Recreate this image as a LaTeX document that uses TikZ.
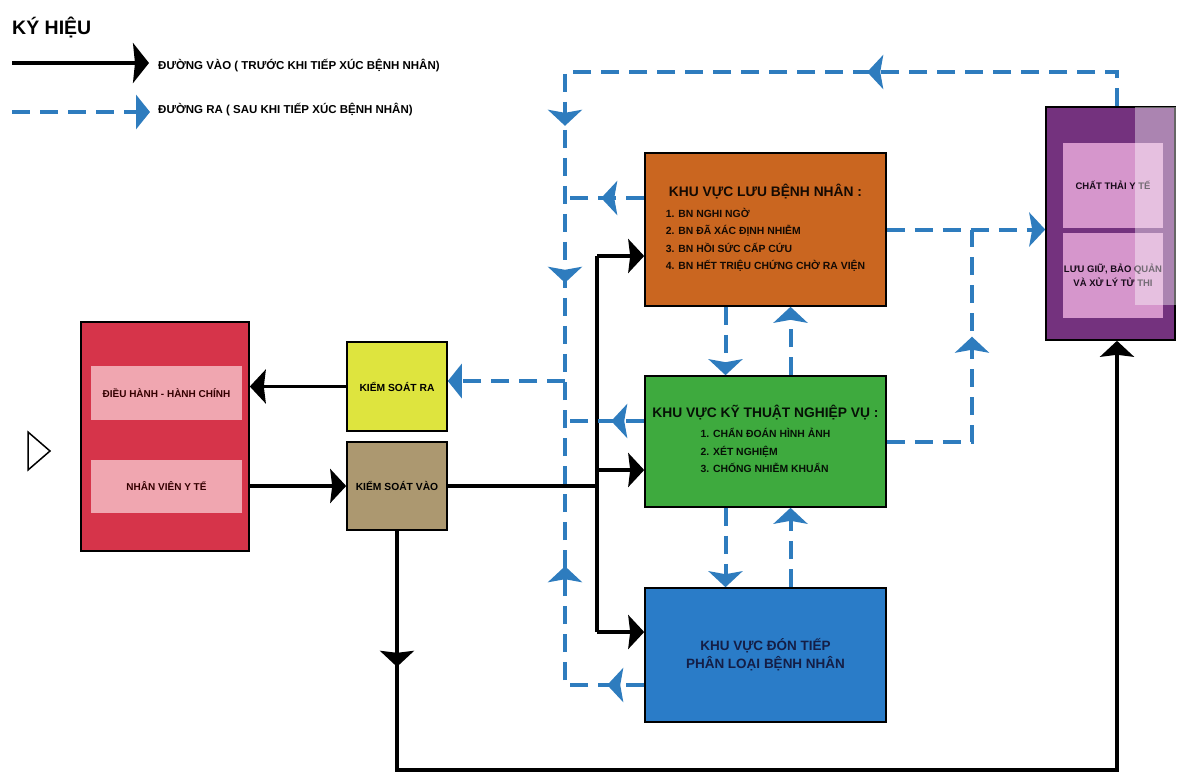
\documentclass[tikz,border=0pt]{standalone}
\usepackage{fontspec}
\setmainfont{Liberation Sans}
\usetikzlibrary{arrows.meta,decorations.markings}
\definecolor{hccol}{RGB}{214,52,74}
\definecolor{bandcol}{RGB}{240,166,176}
\definecolor{racol}{RGB}{222,228,62}
\definecolor{vaocol}{RGB}{172,152,112}
\definecolor{luucol}{RGB}{202,102,32}
\definecolor{ktcol}{RGB}{62,170,62}
\definecolor{doncol}{RGB}{42,124,200}
\definecolor{wastecol}{RGB}{116,50,126}
\definecolor{wbandcol}{RGB}{214,150,204}
\definecolor{flowblue}{RGB}{46,124,190}
\definecolor{navy}{RGB}{20,30,70}
\newcommand{\zonetitle}{\fontsize{13.8}{16}\selectfont}
\newcommand{\zoneitem}{\fontsize{10.4}{17.5}\selectfont}
\tikzset{
  blacktip/.tip={Stealth[length=16pt,width=34pt,inset=2pt]},
  bluetip/.tip={Stealth[length=16pt,width=34pt,inset=3pt]},
  zone/.style={draw=black, line width=1.6pt, inner sep=0pt, align=center, font=\bfseries},
  band/.style={inner sep=0pt, align=center, font=\bfseries\fontsize{10}{12}\selectfont},
  inflow/.style={line width=3.2pt, black},
  outflow/.style={line width=4pt, flowblue, dash pattern=on 18pt off 10pt},
  bluemid/.style={postaction={decorate, decoration={markings, mark=at position #1 with {\arrow{bluetip}}}}},
  blackmid/.style={postaction={decorate, decoration={markings, mark=at position #1 with {\arrow{blacktip}}}}},
}
\begin{document}
\begin{tikzpicture}[x=1pt, y=-1pt]
  \fill[white] (0,0) rectangle (1177,774);
  \useasboundingbox (0,0) rectangle (1177,774);

  % legend
  \node[font=\bfseries\fontsize{19.5}{22}\selectfont, anchor=west, inner sep=0pt] (kyhieu) at (12,28) {KÝ HIỆU};
  \node[font=\bfseries\fontsize{11.5}{13}\selectfont, anchor=west, inner sep=0pt] (lgIn) at (158,66) {ĐƯỜNG VÀO ( TRƯỚC KHI TIẾP XÚC BỆNH NHÂN)};
  \node[font=\bfseries\fontsize{11.5}{13}\selectfont, anchor=west, inner sep=0pt] (lgOut) at (158,110) {ĐƯỜNG RA ( SAU KHI TIẾP XÚC BỆNH NHÂN)};
  \coordinate (lgInA) at (12,63);
  \coordinate (lgInB) at (149,63);
  \coordinate (lgOutA) at (12,112);
  \coordinate (lgOutB) at (150,112);
  \draw[inflow,-{Stealth[length=16pt,width=40pt,inset=2pt]}] (lgInA) -- (lgInB);
  \draw[outflow,-{Triangle[length=14pt,width=34pt]}] (lgOutA) -- (lgOutB);

  % zones
  \node[zone, fill=hccol, minimum width=168pt, minimum height=229pt] (hc) at (165,436.5) {};
  \node[band, fill=bandcol, text=black!80!red, minimum width=151pt, minimum height=54pt] (dieuhanh) at (166.5,393) {ĐIỀU HÀNH - HÀNH CHÍNH};
  \node[band, fill=bandcol, text=black!80!red, minimum width=151pt, minimum height=53pt] (nhanvien) at (166.5,486.5) {NHÂN VIÊN Y TẾ};
  \draw[line width=1.5pt] (28,432) -- (50,451) -- (28,470) -- cycle;

  \node[zone, fill=racol, minimum width=100pt, minimum height=89pt, font=\bfseries\fontsize{10.3}{12}\selectfont] (ksr) at (397,386.5) {KIỂM SOÁT RA};
  \node[zone, fill=vaocol, minimum width=100pt, minimum height=88pt, font=\bfseries\fontsize{10.3}{12}\selectfont] (ksv) at (397,486) {KIỂM SOÁT VÀO};

  \node[zone, fill=luucol, text=black!90!luucol, minimum width=241pt, minimum height=153pt] (luu) at (765.5,229.5)
    {\begin{tabular}{@{}c@{}}{\zonetitle KHU VỰC LƯU BỆNH NHÂN :}\\[5pt]
      \zoneitem\begin{tabular}{@{}l@{}}1. BN NGHI NGỜ\\2. BN ĐÃ XÁC ĐỊNH NHIỄM\\3. BN HỒI SỨC CẤP CỨU\\4. BN HẾT TRIỆU CHỨNG CHỜ RA VIỆN\end{tabular}\end{tabular}};
  \node[zone, fill=ktcol, text=black!90!ktcol, minimum width=241pt, minimum height=131pt] (kt) at (765.5,441.5)
    {\begin{tabular}{@{}c@{}}{\zonetitle KHU VỰC KỸ THUẬT NGHIỆP VỤ :}\\[5pt]
      \zoneitem\begin{tabular}{@{}l@{}}1. CHẨN ĐOÁN HÌNH ẢNH\\2. XÉT NGHIỆM\\3. CHỐNG NHIỄM KHUẨN\end{tabular}\end{tabular}};
  \node[zone, fill=doncol, text=navy, minimum width=241pt, minimum height=134pt, font=\bfseries\fontsize{13.5}{18}\selectfont] (don) at (765.5,655)
    {KHU VỰC ĐÓN TIẾP\\PHÂN LOẠI BỆNH NHÂN};

  \node[zone, fill=wastecol, minimum width=129pt, minimum height=233pt] (waste) at (1110.5,223.5) {};
  \node[band, fill=wbandcol, text=black!80!wastecol, minimum width=100pt, minimum height=85pt, font=\bfseries\fontsize{9.5}{14}\selectfont] (chatthai) at (1113,185.5) {CHẤT THẢI Y TẾ};
  \node[band, fill=wbandcol, text=black!80!wastecol, minimum width=100pt, minimum height=85pt, font=\bfseries\fontsize{9.5}{14}\selectfont] (tuthi) at (1113,275.5) {LƯU GIỮ, BẢO QUẢN\\VÀ XỬ LÝ TỬ THI};
  \fill[white, opacity=0.4] (1135,107) rectangle (1176,305);

  % way in
  \coordinate (jVao) at (597,486);
  \coordinate (jLuu) at (597,256);
  \coordinate (jKt) at (597,470);
  \coordinate (jDon) at (597,632);
  \coordinate (cBL) at (397,770);
  \coordinate (cBR) at (1117,770);
  \draw[inflow,-{blacktip}] (ksr.west) -- (ksr.west -| hc.east);
  \draw[inflow,-{blacktip}] (hc.east |- ksv) -- (ksv.west);
  \draw[inflow] (ksv.east) -- (jVao);
  \draw[inflow] (jLuu) -- (jDon);
  \draw[inflow,-{blacktip}] (jLuu) -- (jLuu -| luu.west);
  \draw[inflow,-{blacktip}] (jKt) -- (jKt -| kt.west);
  \draw[inflow,-{blacktip}] (jDon) -- (jDon -| don.west);
  \draw[inflow,-{blacktip},blackmid=136pt] (ksv.south) -- (cBL) -- (cBR) -- (cBR |- waste.south);

  % way out
  \coordinate (tR) at (1117,72);
  \coordinate (tL) at (565,72);
  \coordinate (jRa) at (565,381);
  \coordinate (jLuuOut) at (565,198);
  \coordinate (jKtOut) at (565,421);
  \coordinate (cDon) at (565,685);
  \coordinate (jKtUp) at (972,441.5);
  \draw[outflow,bluemid=284pt,bluemid=640pt,bluemid=797pt] (tR |- waste.north) -- (tR) -- (tL) -- (jRa);
  \draw[outflow,bluemid=43pt] (luu.west |- jLuuOut) -- (jLuuOut);
  \draw[outflow,bluemid=33pt] (kt.west |- jKtOut) -- (jKtOut);
  \draw[outflow,bluemid=37pt,bluemid=198pt] (don.west |- cDon) -- (cDon) -- (jRa);
  \draw[outflow,-{Triangle[length=14pt,width=34pt]}] (jRa) -- (jRa -| ksr.east);
  \draw[outflow,-{bluetip}] ([xshift=-40pt]luu.south) -- ([xshift=-40pt]kt.north);
  \draw[outflow,-{bluetip}] ([xshift=25pt]kt.north) -- ([xshift=25pt]luu.south);
  \draw[outflow,-{bluetip}] ([xshift=-40pt]kt.south) -- ([xshift=-40pt]don.north);
  \draw[outflow,-{bluetip}] ([xshift=25pt]don.north) -- ([xshift=25pt]kt.south);
  \draw[outflow,-{bluetip}] (luu.east) -- (luu.east -| waste.west);
  \draw[outflow,bluemid=190pt] (kt.east) -- (jKtUp) -- (jKtUp |- luu.east);
\end{tikzpicture}
\end{document}
